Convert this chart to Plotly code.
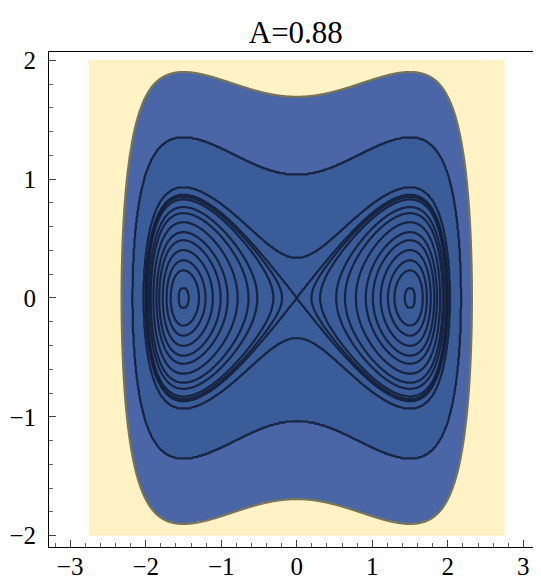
import numpy as np
import plotly.graph_objects as go

# ---- data ----
title_text = "A=0.88"
# potential: well minimum (x, V), separatrix crossing x on p=0
well_x = 1.5
well_V = -0.375
separatrix_x = 2.0
wall_power = 12
# contour levels of H = p^2/2 + V(x)
inner_levels = [-0.371, -0.348, -0.325, -0.294, -0.257, -0.222, -0.172,
                -0.120, -0.083, -0.030, -0.012, 0.0, 0.056, 0.534]
boundary_level = 1.433
band_edges = [0.534, 1.433]
band_colors = ["#3A5C98", "#4A66A6", "#FFF2C4"]
x_domain = [-2.75, 2.75]
y_domain = [-2.0, 2.0]
x_ticks = [-3, -2, -1, 0, 1, 2, 3]
y_ticks = [-2, -1, 0, 1, 2]

# ---- potential V(x) = -a x^2/2 + b x^4/4 + d x^n ----
n = wall_power
xm, xs0 = well_x, separatrix_x
M = np.array([
    [-xm, xm ** 3, n * xm ** (n - 1)],               # V'(xm) = 0
    [-xm ** 2 / 2, xm ** 4 / 4, xm ** n],            # V(xm) = well_V
    [-xs0 ** 2 / 2, xs0 ** 4 / 4, xs0 ** n],         # V(xs) = 0
])
a, b, d = np.linalg.solve(M, np.array([0.0, well_V, 0.0]))

def V(x):
    return -a * x ** 2 / 2 + b * x ** 4 / 4 + d * x ** n

xs = np.linspace(x_domain[0], x_domain[1], 551)
ys = np.linspace(y_domain[0], y_domain[1], 401)
X, Y = np.meshgrid(xs, ys)
Z = 0.5 * Y ** 2 + V(X)

band = np.digitize(Z, band_edges).astype(float)

lev = sorted(inner_levels)
knots = [Z.min() - 1.0] + lev + [Z.max() + 1.0]
Zt = np.interp(Z, knots, np.arange(len(knots)))

fig = go.Figure()
fig.add_trace(go.Heatmap(
    x=xs, y=ys, z=band, zmin=0, zmax=2,
    colorscale=[[0, band_colors[0]], [0.25, band_colors[0]],
                [0.25, band_colors[1]], [0.75, band_colors[1]],
                [0.75, band_colors[2]], [1, band_colors[2]]],
    showscale=False, hoverinfo="skip"))
fig.add_trace(go.Contour(
    x=xs, y=ys, z=Zt,
    contours=dict(start=1, end=len(lev), size=1, coloring="none"),
    line=dict(color="rgba(20,32,58,0.92)", width=2.2),
    showscale=False, hoverinfo="skip"))
fig.add_trace(go.Contour(
    x=xs, y=ys, z=Z,
    contours=dict(start=boundary_level, end=boundary_level + 0.001, size=10,
                  coloring="none"),
    line=dict(color="#77745A", width=2.2),
    showscale=False, hoverinfo="skip"))

serif = "Times New Roman, Liberation Serif, serif"
axis_common = dict(
    showline=True, linecolor="black", linewidth=1, mirror=True,
    ticks="inside", ticklen=7, tickcolor="#444", tickwidth=1,
    showgrid=False, zeroline=False, automargin=False,
    tickfont=dict(family=serif, size=25, color="black"),
    minor=dict(dtick=0.2, ticks="inside", ticklen=4, tickcolor="#666",
               showgrid=False),
)
# page body has an 8px default margin, so the figure is sized to fit
fig.update_layout(
    width=533, height=571,
    margin=dict(l=41, r=0, t=44, b=32),
    paper_bgcolor="white", plot_bgcolor="white",
    showlegend=False,
    title=dict(text=title_text, x=0.540, xanchor="center",
               y=0.958, yanchor="middle", yref="container",
               font=dict(family=serif, size=31, color="black")),
    xaxis=dict(range=[-3.28, 3.234], tickvals=x_ticks, ticklabelstandoff=-3,
               **axis_common),
    yaxis=dict(range=[-2.096, 2.07], tickvals=y_ticks, ticklabelstandoff=7,
               **axis_common),
)
fig.write_html("out.html")
